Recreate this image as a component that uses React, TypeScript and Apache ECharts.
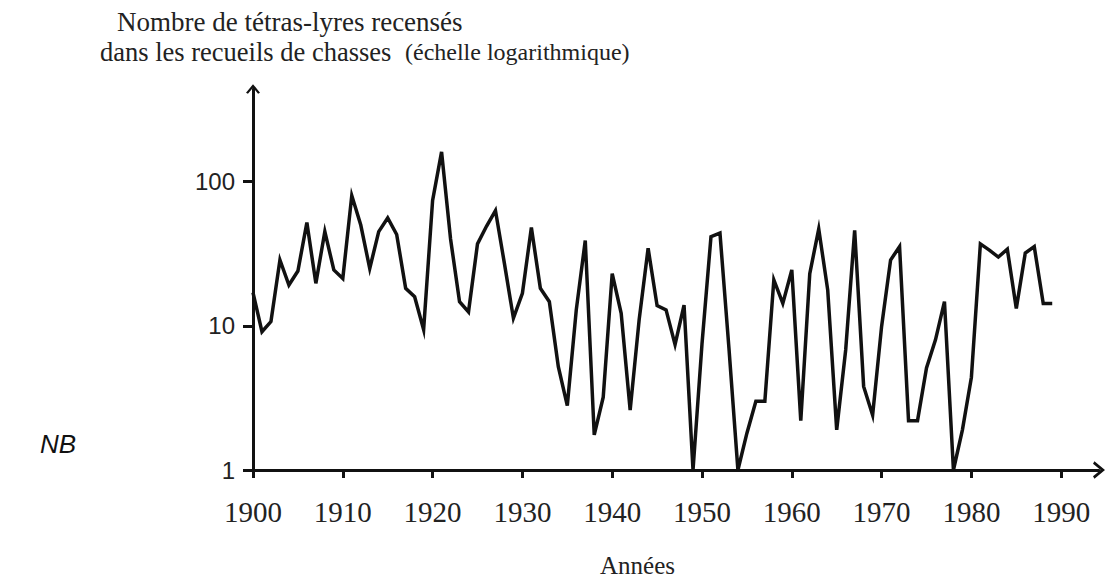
import React, { useEffect, useRef } from "react";
import * as echarts from "echarts";

// ---- data ----
const startYear = 1900;
// Number of black grouse recorded in hunting records, one value per year 1900..1989
const counts = [
  17, 9.1, 10.7, 28.6, 19.2, 24, 52, 19.7, 45, 24.4, // 1900-1909
  21.3, 80, 50, 25, 45, 56, 43, 18.2, 15.9, 9.4, // 1910-1919
  74, 161, 40, 14.7, 12.5, 37, 49, 63, 27, 11.3, // 1920-1929
  16.8, 48, 18.2, 14.7, 5.2, 2.8, 12.9, 39, 1.75, 3.2, // 1930-1939
  23, 12.2, 2.6, 11, 34.5, 13.8, 12.9, 7.4, 13.9, 1, // 1940-1949
  7.5, 41.5, 44, 7, 1, 1.8, 3, 3, 20.8, 14.3, // 1950-1959
  24.4, 2.2, 23, 47, 17.7, 1.9, 6.8, 46, 3.8, 2.4, // 1960-1969
  9.9, 28.6, 35.4, 2.2, 2.2, 5.1, 8, 14.7, 1, 1.9, // 1970-1979
  4.4, 37, 33.5, 30, 34, 13.2, 32, 35.4, 14.3, 14.3, // 1980-1989
];
const xTickMin = 1900;
const xTickMax = 1990;
const xTickStep = 10;
const yTickMin = 1;
const yTickMax = 100;

const titleLine1 = "Nombre de tétras-lyres recensés";
const titleLine2a = "dans les recueils de chasses";
const titleLine2b = "(échelle logarithmique)";
const xName = "Années";
const noteText = "NB";

const chevron = "path://M0,11 L9,0 L18,11 L15.5,12.5 L9,4.5 L2.5,12.5 Z";
const serif = "Liberation Serif";
const sans = "Liberation Sans";

export default function App() {
  const ref = useRef<HTMLDivElement>(null);
  useEffect(() => {
    if (!ref.current) return;
    const chart = echarts.init(ref.current, undefined, { renderer: "svg" });
    const data = counts.map((v, i) => [startYear + i, v]);
    const pxPerYear = 8.98;
    const axisColor = "#111";
    chart.setOption({
      animation: false,
      backgroundColor: "#fff",
      grid: [
        { left: 253, top: 89, width: 846, height: 381 },
        { left: 253, top: 181.6, width: pxPerYear * (xTickMax - xTickMin), height: 288.4 },
      ],
      xAxis: [
        {
          type: "value",
          gridIndex: 0,
          min: xTickMin,
          max: xTickMin + 846 / pxPerYear,
          axisLine: {
            show: true,
            symbol: ["none", chevron],
            symbolSize: [18, 12],
            lineStyle: { color: axisColor, width: 3 },
          },
          axisTick: { show: false },
          axisLabel: { show: false },
          splitLine: { show: false },
        },
        {
          type: "value",
          gridIndex: 1,
          min: xTickMin,
          max: xTickMax,
          interval: xTickStep,
          axisLine: { show: false },
          axisTick: { show: true, length: 8, lineStyle: { color: axisColor, width: 3 } },
          axisLabel: {
            show: true,
            margin: 27,
            fontFamily: serif,
            fontSize: 29,
            color: "#222",
            formatter: (v: number) => String(v),
          },
          splitLine: { show: false },
        },
      ],
      yAxis: [
        {
          type: "log",
          logBase: 10,
          gridIndex: 0,
          min: 1,
          max: 439,
          axisLine: {
            show: true,
            symbol: ["none", chevron],
            symbolSize: [14, 12],
            lineStyle: { color: axisColor, width: 3 },
          },
          axisTick: { show: false },
          axisLabel: { show: false },
          splitLine: { show: false },
        },
        {
          type: "log",
          logBase: 10,
          gridIndex: 1,
          min: yTickMin,
          max: yTickMax,
          axisLine: { show: false },
          axisTick: { show: true, length: 10, lineStyle: { color: axisColor, width: 3 } },
          axisLabel: {
            show: true,
            margin: 18,
            fontFamily: sans,
            fontSize: 24,
            color: "#222",
            formatter: (v: number) => String(v),
          },
          splitLine: { show: false },
        },
      ],
      series: [
        {
          type: "line",
          xAxisIndex: 0,
          yAxisIndex: 0,
          data,
          showSymbol: false,
          clip: false,
          lineStyle: { color: "#111", width: 3.5, join: "miter", miterLimit: 6 },
        },
      ],
      graphic: [
        {
          type: "text",
          left: 117,
          top: 8,
          style: { text: titleLine1, font: "27px 'Liberation Serif'", fill: "#222" },
        },
        {
          type: "text",
          left: 100,
          top: 38,
          style: { text: titleLine2a, font: "26.5px 'Liberation Serif'", fill: "#222" },
        },
        {
          type: "text",
          left: 405,
          top: 40,
          style: { text: titleLine2b, font: "24px 'Liberation Serif'", fill: "#222" },
        },
        {
          type: "text",
          left: 40,
          top: 431,
          style: { text: noteText, font: "italic 26px 'Liberation Sans'", fill: "#111" },
        },
        {
          type: "text",
          left: 600,
          top: 553,
          style: { text: xName, font: "25px 'Liberation Serif'", fill: "#222" },
        },
      ],
    });
    return () => chart.dispose();
  }, []);
  return (
    <div
      ref={ref}
      style={{ position: "fixed", left: 0, top: 0, width: 1107, height: 583 }}
    />
  );
}
